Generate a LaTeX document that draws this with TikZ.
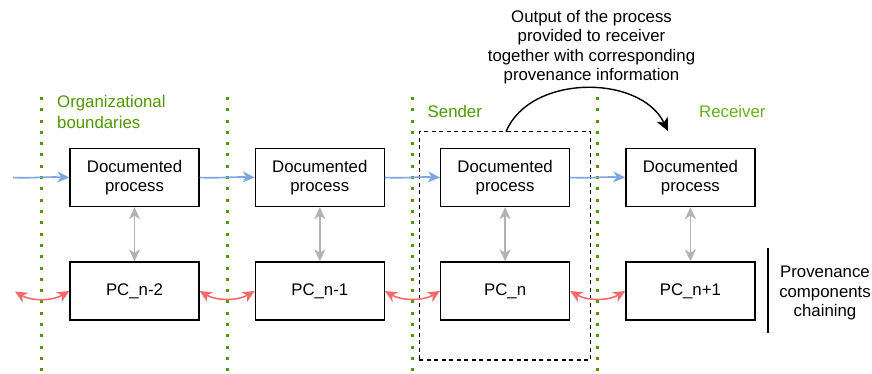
\documentclass[tikz,border=0pt]{standalone}
\usepackage{fontspec}
\setmainfont{Liberation Sans}
\usetikzlibrary{arrows.meta}
\definecolor{orggreen}{HTML}{4D9900}
\definecolor{recvgreen}{HTML}{66B21A}
\definecolor{flowblue}{HTML}{7EA6E0}
\definecolor{linkgray}{HTML}{B3B3B3}
\definecolor{chainred}{HTML}{F46A6A}
\tikzset{
  every node/.style={font=\fontsize{16.8}{19.5}\selectfont},
  procbox/.style={draw=black, line width=1.3pt, minimum width=129pt, minimum height=58pt, align=center, inner sep=0pt},
  boundary/.style={orggreen, line width=3pt, dash pattern=on 3pt off 8.3pt},
  flow/.style={flowblue, line width=1.6pt, -{Stealth[length=12pt, width=11pt, inset=3.5pt]}},
  link/.style={linkgray, line width=1.6pt, {Stealth[length=12pt, width=11pt, inset=3.5pt]}-{Stealth[length=12pt, width=11pt, inset=3.5pt]}},
  chain/.style={chainred, line width=1.6pt, {Stealth[length=12pt, width=11pt, inset=3.5pt]}-{Stealth[length=12pt, width=11pt, inset=3.5pt]}},
  grouplabel/.style={text=orggreen, align=left, inner sep=0pt}
}
\begin{document}
\begin{tikzpicture}[x=1pt, y=-1pt]
  \useasboundingbox[fill=white] (0,0) rectangle (872,374);

  % organizational boundaries
  \foreach \bx in {41.5, 227, 412, 597}
    \draw[boundary] (\bx,97) -- (\bx,373);

  % sender's group
  \node[draw, line width=1.3pt, dash pattern=on 4pt off 3.5pt, minimum width=171.5pt, minimum height=228.5pt, inner sep=0pt] (sendbox) at (505,245.8) {};

  % labels of the parties
  \node[grouplabel, font=\fontsize{16.8}{20.6}\selectfont, anchor=west] (orglab) at (57,112) {Organizational\\boundaries};
  \node[grouplabel, anchor=west] (sendlab) at (427.5,111) {Sender};
  \node[grouplabel, text=recvgreen, anchor=west] (recvlab) at (699,111) {Receiver};

  % documented processes and their provenance components
  \node[procbox] (dp1) at (134.5,177.5) {Documented\\process};
  \node[procbox] (dp2) at (319.8,177.5) {Documented\\process};
  \node[procbox] (dp3) at (505.1,177.5) {Documented\\process};
  \node[procbox] (dp4) at (690.4,177.5) {Documented\\process};
  \node[procbox] (pc1) at (134.5,291) {PC\_n-2};
  \node[procbox] (pc2) at (319.8,291) {PC\_n-1};
  \node[procbox] (pc3) at (505.1,291) {PC\_n};
  \node[procbox] (pc4) at (690.4,291) {PC\_n+1};

  % process flow
  \coordinate (flowin) at (13,177.5);
  \draw[flow] (flowin) .. controls (30,178.5) and (45,176.5) .. (dp1.west);
  \draw[flow] (dp1.east) .. controls (220,178.5) and (235,176.5) .. (dp2.west);
  \draw[flow] (dp2.east) .. controls (405,178.5) and (420,176.5) .. (dp3.west);
  \draw[flow] (dp3.east) .. controls (590,178.5) and (605,176.5) .. (dp4.west);

  % process <-> provenance component
  \foreach \i in {1,2,3,4}
    \draw[link] (dp\i.south) -- (pc\i.north);

  % chaining of provenance components
  \coordinate (chainin) at (15,291.5);
  \draw[chain] (chainin) .. controls +(17,10) and +(-17,10) .. (pc1.west);
  \draw[chain] (pc1.east) .. controls +(17,10) and +(-17,10) .. (pc2.west);
  \draw[chain] (pc2.east) .. controls +(17,10) and +(-17,10) .. (pc3.west);
  \draw[chain] (pc3.east) .. controls +(17,10) and +(-17,10) .. (pc4.west);

  % output handed to the receiver
  \coordinate (outstart) at (506,131.7);
  \coordinate (outend) at (668,131);
  \draw[line width=1.4pt, -{Stealth[length=13pt, width=12pt, inset=3.5pt]}] (outstart) .. controls (530,74) and (640,74) .. (outend);
  \node[align=center, inner sep=0pt] (outlab) at (591.5,47) {Output of the process\\provided to receiver\\together with corresponding\\provenance information};

  % legend for the lower row
  \coordinate (legtop) at (768,248);
  \coordinate (legbot) at (768,333);
  \draw[line width=1.3pt] (legtop) -- (legbot);
  \node[align=center, inner sep=0pt] (leglab) at (825,293) {Provenance\\components\\chaining};
\end{tikzpicture}
\end{document}
